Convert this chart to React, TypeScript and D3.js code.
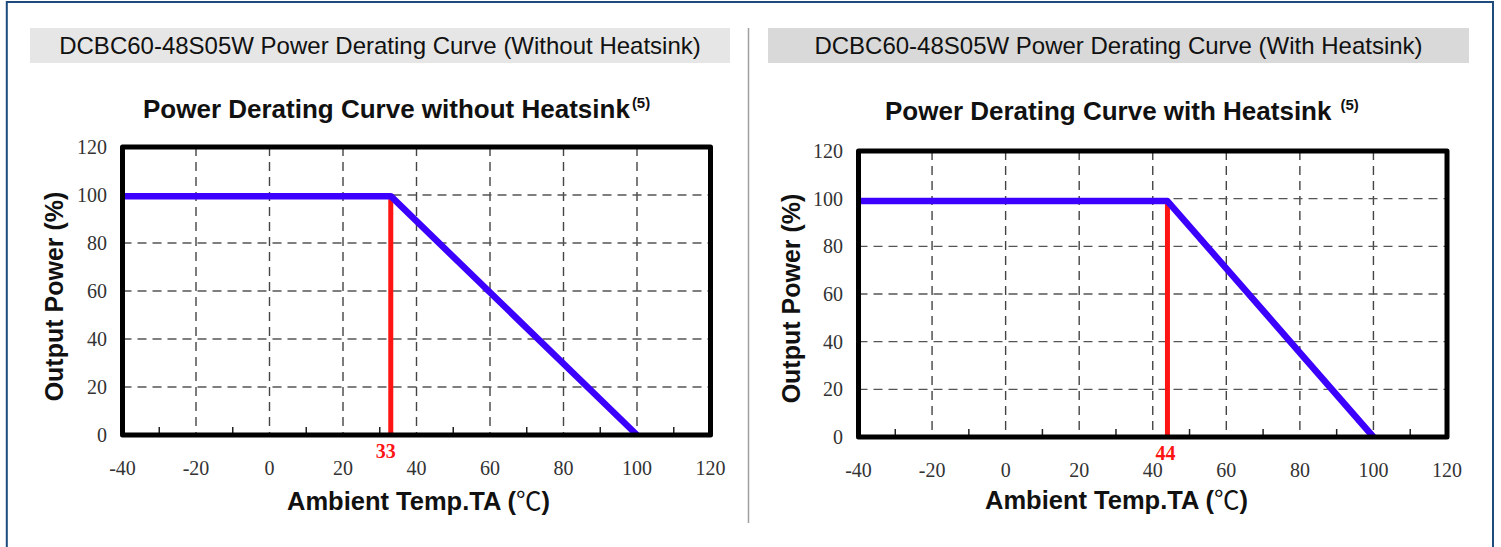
import * as d3 from "d3";
import {useEffect, useRef} from "react";

// axis ticks (same for both charts)
const xTicks = [-40, -20, 0, 20, 40, 60, 80, 100, 120];
const xMinorTicks = [-30, -10, 10, 30, 50, 70, 90, 110];
const yTicks = [0, 20, 40, 60, 80, 100, 120];

// curve without heatsink
const tempNoSink = [-40, 33, 100];
const powerNoSink = [99.5, 99.5, 0];
const kneeNoSink = 33;

// curve with heatsink
const tempSink = [-40, 44, 100];
const powerSink = [99, 99, 0];
const kneeSink = 44;

const headers = [
    "DCBC60-48S05W Power Derating Curve (Without Heatsink)",
    "DCBC60-48S05W Power Derating Curve (With Heatsink)",
];
const titles = ["Power Derating Curve without Heatsink", "Power Derating Curve with Heatsink"];
const superscripts = ["(5)", "(5)"];
const yTitle = "Output Power (%)";
const xTitle = "Ambient Temp.TA (";

const SANS = "'Liberation Sans', Arial, sans-serif";
const SERIF = "'Liberation Serif', 'Times New Roman', serif";
const BLUE = "#3c00ff";
const RED = "#ff1414";

// layout of the two panels
const panels = [
    {
        temps: tempNoSink, powers: powerNoSink, knee: kneeNoSink,
        left: 122.5, right: 710.5, top: 147, bottom: 435,
        headerX: 30, headerW: 700, headerFill: "#e6e6e6",
        titleX: 143, titleY: 118, supDx: 2,
        yTitleX: 63, yTitleY: 296.5, yLabelX: 107,
        xTitleX: 287, xTitleY: 510, kneeDx: -5,
    },
    {
        temps: tempSink, powers: powerSink, knee: kneeSink,
        left: 858.5, right: 1447, top: 151, bottom: 437,
        headerX: 768, headerW: 701, headerFill: "#d9d9d9",
        titleX: 885, titleY: 120, supDx: 9,
        yTitleX: 800, yTitleY: 298.5, yLabelX: 843,
        xTitleX: 985, xTitleY: 509, kneeDx: -2,
    },
];

function drawPanel(svg, p, i) {
    const g = svg.append("g");

    const x = d3.scaleLinear().domain([-40, 120]).range([p.left, p.right]);
    const y = d3.scaleLinear().domain([0, 120]).range([p.bottom, p.top]);

    // grey header bar
    g.append("rect").attr("x", p.headerX).attr("y", 28).attr("width", p.headerW).attr("height", 35)
        .attr("fill", p.headerFill);
    g.append("text").attr("x", p.headerX + p.headerW / 2).attr("y", 54)
        .attr("text-anchor", "middle").attr("font-family", SANS).attr("font-size", 24).attr("fill", "#111")
        .text(headers[i]);

    // chart title with superscript
    const t = g.append("text").attr("x", p.titleX).attr("y", p.titleY)
        .attr("font-family", SANS).attr("font-weight", "bold").attr("font-size", 26).attr("fill", "#111");
    t.append("tspan").text(titles[i]);
    t.append("tspan").attr("dx", p.supDx).attr("dy", -10).attr("font-size", 15).text(superscripts[i]);

    // dashed grid
    g.append("g").selectAll("line").data(xTicks.slice(1, -1)).join("line")
        .attr("x1", d => x(d)).attr("x2", d => x(d)).attr("y1", p.top).attr("y2", p.bottom)
        .attr("stroke", "#444").attr("stroke-width", 1.4).attr("stroke-dasharray", "9,6");
    g.append("g").selectAll("line").data(yTicks.slice(1, -1)).join("line")
        .attr("x1", p.left).attr("x2", p.right).attr("y1", d => y(d)).attr("y2", d => y(d))
        .attr("stroke", "#555").attr("stroke-width", 1.4).attr("stroke-dasharray", "9,6");

    // minor ticks on bottom axis
    g.append("g").selectAll("line").data(xMinorTicks).join("line")
        .attr("x1", d => x(d)).attr("x2", d => x(d)).attr("y1", p.bottom).attr("y2", p.bottom - 8)
        .attr("stroke", "#222").attr("stroke-width", 1.5);

    // red marker at the knee
    const kneePower = p.powers[1];
    g.append("line").attr("x1", x(p.knee)).attr("x2", x(p.knee))
        .attr("y1", p.bottom).attr("y2", y(kneePower) + 2)
        .attr("stroke", RED).attr("stroke-width", 5);

    // derating curve
    const line = d3.line().x(d => x(d[0])).y(d => y(d[1]));
    g.append("path").datum(d3.zip(p.temps, p.powers)).attr("d", line)
        .attr("fill", "none").attr("stroke", BLUE).attr("stroke-width", 6.5).attr("stroke-linejoin", "round");

    // black frame
    g.append("rect").attr("x", p.left).attr("y", p.top)
        .attr("width", p.right - p.left).attr("height", p.bottom - p.top)
        .attr("fill", "none").attr("stroke", "#000").attr("stroke-width", 5).attr("stroke-linejoin", "round");

    // tick labels
    g.append("g").selectAll("text").data(yTicks).join("text")
        .attr("x", p.yLabelX).attr("y", d => y(d) + 7).attr("text-anchor", "end")
        .attr("font-family", SERIF).attr("font-size", 20).attr("fill", "#333").text(d => d);
    g.append("g").selectAll("text").data(xTicks).join("text")
        .attr("x", d => x(d)).attr("y", p.bottom + 39.5).attr("text-anchor", "middle")
        .attr("font-family", SERIF).attr("font-size", 20).attr("fill", "#333").text(d => d);

    // knee value label
    g.append("text").attr("x", x(p.knee) + p.kneeDx).attr("y", p.bottom + 23)
        .attr("text-anchor", "middle").attr("font-family", SERIF).attr("font-weight", "bold")
        .attr("font-size", 20).attr("fill", RED).text(p.knee);

    // axis titles
    g.append("text").attr("transform", `translate(${p.yTitleX},${p.yTitleY}) rotate(-90)`)
        .attr("text-anchor", "middle").attr("font-family", SANS).attr("font-weight", "bold")
        .attr("font-size", 25).attr("fill", "#111").text(yTitle);
    const xt = g.append("text").attr("x", p.xTitleX).attr("y", p.xTitleY)
        .attr("font-family", SANS).attr("font-weight", "bold").attr("font-size", 25.5).attr("fill", "#111");
    xt.append("tspan").text(xTitle);
    xt.append("tspan").attr("font-family", "'Noto Sans CJK SC', sans-serif").attr("font-weight", "normal").text("℃");
    xt.append("tspan").text(")");
}

export default function App() {
    const ref = useRef(null);

    useEffect(() => {
        const svg = d3.select(ref.current);
        svg.selectAll("*").remove();

        // page background and blue outer frame
        svg.append("rect").attr("width", 1501).attr("height", 547).attr("fill", "#fff");
        svg.append("path").attr("d", "M6.8,547 V2 H1493 V547")
            .attr("fill", "none").attr("stroke", "#1c4b7c").attr("stroke-width", 2);

        // divider between the two charts
        svg.append("line").attr("x1", 748.5).attr("x2", 748.5).attr("y1", 28).attr("y2", 523)
            .attr("stroke", "#a0a0a0").attr("stroke-width", 1.5);

        panels.forEach((p, i) => drawPanel(svg, p, i));
    }, []);

    return (
        <svg ref={ref} width={1501} height={547}
             style={{position: "absolute", left: 0, top: 0, display: "block"}}/>
    );
}
